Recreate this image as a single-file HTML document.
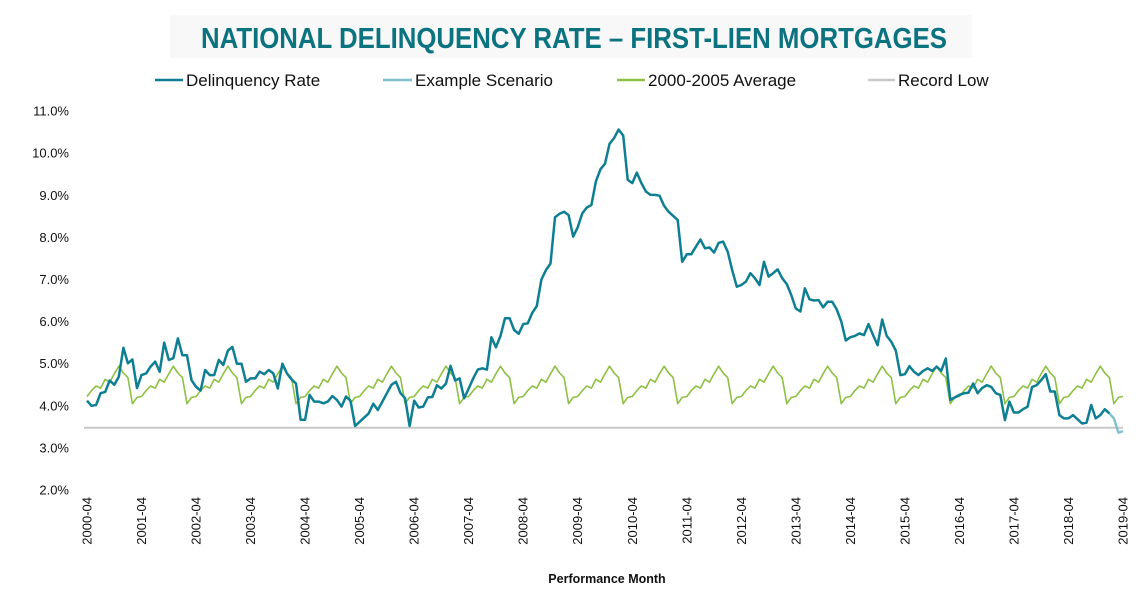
<!DOCTYPE html>
<html><head><meta charset="utf-8"><style>
body{margin:0;background:#fff;}
svg{display:block;font-family:"Liberation Sans",Arial,sans-serif;}
</style></head><body>
<svg id="chart" width="1144" height="602" viewBox="0 0 1144 602">
<rect x="170" y="15" width="802" height="43" fill="#f8f8f8"/>
<text x="574" y="48" text-anchor="middle" font-size="29" font-weight="bold" fill="#0b7380" textLength="746" lengthAdjust="spacingAndGlyphs">NATIONAL DELINQUENCY RATE – FIRST-LIEN MORTGAGES</text>
<g font-size="17" fill="#111">
<g><line x1="155" y1="80" x2="183" y2="80" stroke="#0e7f93" stroke-width="2.5"/><text x="186" y="86">Delinquency Rate</text></g>
<g><line x1="383" y1="80" x2="412" y2="80" stroke="#7fc0cc" stroke-width="2.5"/><text x="415" y="86">Example Scenario</text></g>
<g><line x1="617" y1="80" x2="645" y2="80" stroke="#8dc043" stroke-width="2.5"/><text x="648" y="86">2000-2005 Average</text></g>
<g><line x1="868" y1="80" x2="895" y2="80" stroke="#c8c8c8" stroke-width="2.5"/><text x="898" y="86">Record Low</text></g>
</g>
<g id="yaxis"></g>
<g id="xaxis"></g>
<g id="plot"></g>
<text x="607" y="583" text-anchor="middle" font-size="12.5" font-weight="bold" fill="#111">Performance Month</text>
</svg>
<script>
const yTicks = [2,3,4,5,6,7,8,9,10,11];
const xTickLabels = ["2000-04","2001-04","2002-04","2003-04","2004-04","2005-04","2006-04","2007-04","2008-04","2009-04","2010-04","2011-04","2012-04","2013-04","2014-04","2015-04","2016-04","2017-04","2018-04","2019-04"];
const delinquency = [4.12,4.0,4.02,4.3,4.33,4.6,4.5,4.69,5.38,5.01,5.1,4.42,4.73,4.77,4.93,5.05,4.81,5.5,5.09,5.13,5.6,5.2,5.2,4.61,
4.45,4.36,4.85,4.73,4.73,5.09,4.97,5.31,5.4,5.0,5.0,4.57,4.65,4.65,4.81,4.75,4.85,4.77,4.41,5.0,4.77,4.63,4.53,3.67,
3.67,4.26,4.1,4.1,4.06,4.1,4.23,4.14,3.98,4.22,4.12,3.52,3.62,3.72,3.82,4.05,3.9,4.1,4.3,4.5,4.57,4.3,4.18,3.52,
4.12,3.96,3.98,4.2,4.21,4.49,4.41,4.53,4.95,4.6,4.65,4.18,4.41,4.65,4.86,4.89,4.86,5.63,5.39,5.66,6.08,6.08,5.8,5.71,
5.94,5.96,6.21,6.37,7.0,7.22,7.38,8.48,8.56,8.61,8.53,8.02,8.24,8.57,8.71,8.77,9.33,9.62,9.75,10.22,10.36,10.56,10.42,9.37,
9.29,9.54,9.29,9.09,9.01,9.01,8.99,8.75,8.61,8.51,8.41,7.42,7.6,7.6,7.78,7.95,7.74,7.76,7.64,7.87,7.9,7.66,7.22,6.83,
6.87,6.95,7.15,7.03,6.87,7.42,7.07,7.15,7.24,7.03,6.89,6.63,6.31,6.24,6.79,6.53,6.5,6.51,6.34,6.47,6.47,6.29,6.0,5.55,
5.63,5.66,5.72,5.68,5.94,5.68,5.44,6.05,5.66,5.52,5.31,4.73,4.75,4.94,4.81,4.73,4.83,4.89,4.83,4.93,4.83,5.12,4.14,4.2,
4.26,4.3,4.31,4.53,4.3,4.42,4.49,4.45,4.3,4.26,3.66,4.1,3.84,3.84,3.92,3.98,4.45,4.49,4.61,4.75,4.34,4.34,3.78,
3.7,3.7,3.78,3.68,3.58,3.6,4.02,3.7,3.78,3.92,3.82];
const scenarioStart = 225;
const scenario = [3.82,3.7,3.36,3.4];
const avgSeasonal = [4.22,4.36,4.47,4.42,4.63,4.56,4.76,4.94,4.78,4.67,4.05,4.2];
const recordLow = 3.48;
const nMonths = 229;

const NS="http://www.w3.org/2000/svg";
const x = m => 87 + m*(1036/228);
const y = v => 490 - (v-2)*42.1;
function el(tag, attrs, parent){const e=document.createElementNS(NS,tag);for(const k in attrs)e.setAttribute(k,attrs[k]);parent.appendChild(e);return e;}
const yaxis=document.getElementById('yaxis'), xaxis=document.getElementById('xaxis'), plot=document.getElementById('plot');
yTicks.forEach(v=>{
  const t=el('text',{x:69,y:y(v)+4.5,'text-anchor':'end','font-size':'13',fill:'#111'},yaxis);
  t.textContent=v.toFixed(1)+'%';
  
  
});
xTickLabels.forEach((s,i)=>{
  const xx=x(i*12)+4.5;
  const t=el('text',{x:0,y:0,'text-anchor':'end','font-size':'13',fill:'#111',transform:`translate(${xx},497) rotate(-90)`},xaxis);
  t.textContent=s;
  
  
});
const rl=el('line',{x1:84,x2:1123,y1:y(recordLow),y2:y(recordLow),stroke:'#c8c8c8','stroke-width':2},plot);


const avgPts=[];for(let m=0;m<nMonths;m++)avgPts.push(x(m).toFixed(1)+','+y(avgSeasonal[m%12]).toFixed(1));
const al=el('polyline',{points:avgPts.join(' '),fill:'none',stroke:'#8dc043','stroke-width':1.6,'stroke-linejoin':'round'},plot);


const scPts=scenario.map((v,i)=>x(scenarioStart+i).toFixed(1)+','+y(v).toFixed(1));
const sl=el('polyline',{points:scPts.join(' '),fill:'none',stroke:'#7fc0cc','stroke-width':2.4,'stroke-linejoin':'round'},plot);


const dPts=delinquency.map((v,i)=>x(i).toFixed(1)+','+y(v).toFixed(1));
const dl=el('polyline',{points:dPts.join(' '),fill:'none',stroke:'#0e7f93','stroke-width':2.5,'stroke-linejoin':'round'},plot);


</script>
</body></html>
